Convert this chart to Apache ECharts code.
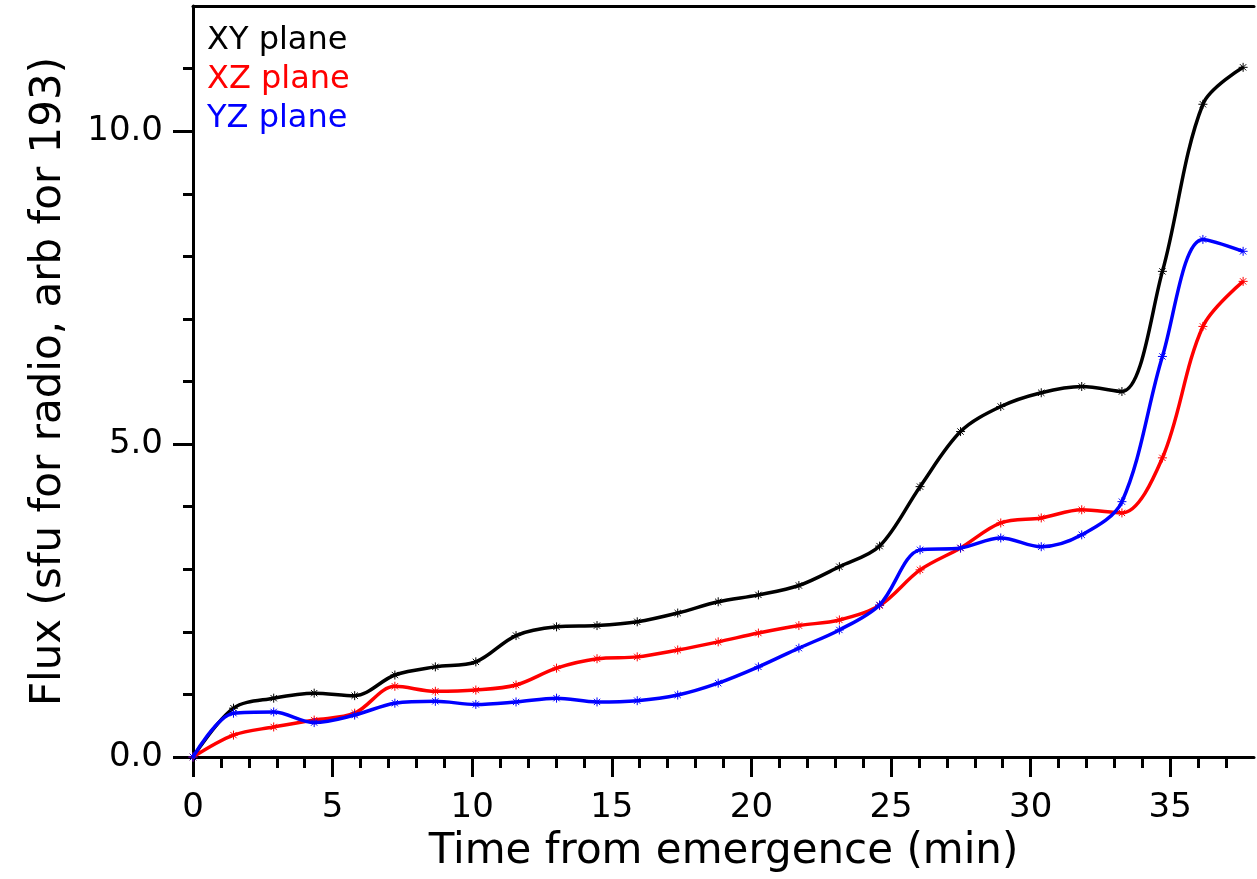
<!DOCTYPE html>
<html>
<head>
<meta charset="utf-8">
<title>Flux vs time from emergence</title>
<script src="https://cdn.jsdelivr.net/npm/echarts@6/dist/echarts.min.js"></script>
<style>
  html, body { margin: 0; padding: 0; background: #fff; }
  #chart { width: 1257px; height: 879px; }
</style>
</head>
<body>
<div id="chart"></div>
<script>
// Sample times (minutes after emergence)
const timeMin = [0, 1.45, 2.89, 4.34, 5.79, 7.23, 8.68, 10.13, 11.57, 13.02, 14.47, 15.91, 17.36,
  18.81, 20.25, 21.70, 23.15, 24.59, 26.04, 27.49, 28.93, 30.38, 31.83, 33.27, 34.72, 36.17, 37.61];

// Integrated flux for each projection plane
const fluxXY = [0, 0.78, 0.94, 1.02, 0.98, 1.31, 1.44, 1.52, 1.94, 2.08, 2.10, 2.16, 2.30,
  2.48, 2.59, 2.74, 3.04, 3.37, 4.32, 5.20, 5.60, 5.82, 5.92, 5.84, 7.76, 10.43, 11.02];
const fluxXZ = [0, 0.35, 0.48, 0.59, 0.70, 1.13, 1.05, 1.07, 1.15, 1.42, 1.57, 1.60, 1.71,
  1.84, 1.98, 2.10, 2.19, 2.42, 2.99, 3.34, 3.74, 3.82, 3.95, 3.90, 4.78, 6.88, 7.60];
const fluxYZ = [0, 0.70, 0.72, 0.55, 0.67, 0.86, 0.89, 0.84, 0.88, 0.94, 0.88, 0.90, 0.99,
  1.18, 1.44, 1.74, 2.03, 2.43, 3.31, 3.34, 3.50, 3.36, 3.55, 4.08, 6.40, 8.27, 8.08];

const seriesNames = ['XY plane', 'XZ plane', 'YZ plane'];
const seriesColors = ['#000000', '#ff0000', '#0000ff'];
const xTickValues = [0, 5, 10, 15, 20, 25, 30, 35];
const yTickValues = [0, 5, 10];

const FONT = 'DejaVu Sans';
// asterisk marker drawn at every sample
const ASTERISK = 'path://M5 0L5 10M0 5L10 5M1.5 1.5L8.5 8.5M1.5 8.5L8.5 1.5';

function pairs(ys) { return timeMin.map((t, i) => [t, ys[i]]); }

const chart = echarts.init(document.getElementById('chart'), null, { renderer: 'canvas' });

const axisLine = { show: true, onZero: false, lineStyle: { color: '#000', width: 3 } };

chart.setOption({
  animation: false,
  backgroundColor: '#ffffff',
  textStyle: { fontFamily: FONT },
  grid: { left: 193, top: 6, width: 1068.6, height: 751, containLabel: false },
  legend: {
    orient: 'vertical',
    left: 197,
    top: 20,
    icon: 'none',
    itemWidth: 0,
    itemHeight: 10,
    itemGap: 7,
    selectedMode: false,
    textStyle: { fontFamily: FONT, fontSize: 32, padding: 0 },
    data: seriesNames.map((n, i) => ({ name: n, textStyle: { color: seriesColors[i] } }))
  },
  xAxis: [{
    type: 'value',
    min: 0,
    max: 38,
    interval: 5,
    position: 'bottom',
    name: 'Time from emergence (min)',
    nameLocation: 'middle',
    nameGap: 74,
    nameTextStyle: { fontFamily: FONT, fontSize: 42, color: '#000' },
    axisLine: axisLine,
    axisTick: { show: true, inside: false, length: 20, customValues: xTickValues,
      lineStyle: { color: '#000', width: 3 } },
    minorTick: { show: true, splitNumber: 5, length: 11, lineStyle: { color: '#000', width: 3 } },
    axisLabel: {
      margin: 34, fontFamily: FONT, fontSize: 34, color: '#000',
      formatter: v => (v % 5 === 0 ? String(v) : '')
    },
    splitLine: { show: false }
  }, {
    type: 'value',
    min: 0,
    max: 38,
    position: 'top',
    axisLine: axisLine,
    axisTick: { show: false },
    axisLabel: { show: false },
    splitLine: { show: false }
  }],
  yAxis: [{
    type: 'value',
    min: 0,
    max: 12,
    interval: 5,
    position: 'left',
    name: 'Flux (sfu for radio, arb for 193)',
    nameLocation: 'middle',
    nameGap: 123,
    nameTextStyle: { fontFamily: FONT, fontSize: 42, color: '#000' },
    axisLine: axisLine,
    axisTick: { show: true, inside: false, length: 20, customValues: yTickValues,
      lineStyle: { color: '#000', width: 3 } },
    minorTick: { show: true, splitNumber: 5, length: 10, lineStyle: { color: '#000', width: 3 } },
    axisLabel: {
      margin: 30, fontFamily: FONT, fontSize: 34, color: '#000',
      formatter: v => (v % 5 === 0 ? v.toFixed(1) : '')
    },
    splitLine: { show: false }
  }],
  series: [fluxXY, fluxXZ, fluxYZ].map((ys, i) => ({
    name: seriesNames[i],
    type: 'line',
    data: pairs(ys),
    smooth: 0.33,
    symbol: ASTERISK,
    symbolSize: 9,
    showSymbol: true,
    lineStyle: { color: seriesColors[i], width: 3.5 },
    itemStyle: { color: seriesColors[i], borderColor: seriesColors[i], borderWidth: 1 },
    z: 3 + i
  }))
});
</script>
</body>
</html>
